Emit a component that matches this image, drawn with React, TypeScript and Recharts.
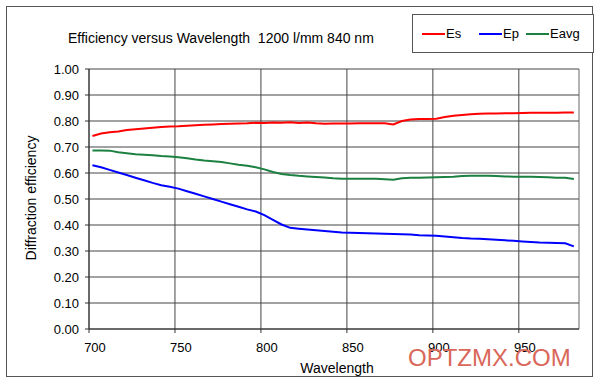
import React from "react";
import { LineChart, Line, XAxis, YAxis, CartesianGrid, ReferenceLine } from "recharts";

const wavelengths = [702, 707, 712, 717, 722, 727, 732, 737, 742, 747, 752, 757, 762, 767, 772, 777, 782, 787, 792, 797, 802, 807, 812, 817, 822, 827, 832, 837, 842, 847, 852, 857, 862, 867, 872, 877, 882, 887, 892, 897, 902, 907, 912, 917, 922, 927, 932, 937, 942, 947, 952, 957, 962, 967, 972, 977, 982];

const es = [0.742, 0.752, 0.757, 0.760, 0.765, 0.768, 0.771, 0.774, 0.777, 0.779, 0.780, 0.782, 0.784, 0.786, 0.787, 0.788, 0.789, 0.790, 0.791, 0.793, 0.792, 0.794, 0.793, 0.795, 0.792, 0.794, 0.791, 0.789, 0.790, 0.790, 0.790, 0.791, 0.791, 0.791, 0.791, 0.787, 0.800, 0.806, 0.808, 0.808, 0.809, 0.815, 0.820, 0.823, 0.826, 0.828, 0.829, 0.829, 0.830, 0.830, 0.831, 0.832, 0.832, 0.832, 0.832, 0.833, 0.833];

const ep = [0.630, 0.622, 0.612, 0.602, 0.592, 0.582, 0.572, 0.562, 0.553, 0.547, 0.540, 0.530, 0.520, 0.510, 0.500, 0.490, 0.480, 0.470, 0.460, 0.452, 0.438, 0.420, 0.402, 0.389, 0.386, 0.383, 0.380, 0.377, 0.374, 0.371, 0.370, 0.369, 0.368, 0.367, 0.366, 0.365, 0.364, 0.363, 0.361, 0.360, 0.359, 0.356, 0.353, 0.350, 0.348, 0.347, 0.345, 0.343, 0.341, 0.339, 0.337, 0.335, 0.333, 0.332, 0.331, 0.330, 0.318];

const eavg = [0.687, 0.687, 0.686, 0.680, 0.676, 0.672, 0.670, 0.668, 0.665, 0.663, 0.661, 0.657, 0.652, 0.648, 0.645, 0.642, 0.637, 0.632, 0.628, 0.622, 0.614, 0.604, 0.596, 0.592, 0.589, 0.587, 0.585, 0.583, 0.580, 0.578, 0.578, 0.578, 0.578, 0.578, 0.576, 0.574, 0.580, 0.582, 0.582, 0.583, 0.584, 0.585, 0.586, 0.588, 0.589, 0.589, 0.589, 0.588, 0.587, 0.586, 0.586, 0.586, 0.585, 0.584, 0.582, 0.582, 0.577];

const xTicks = [700, 750, 800, 850, 900, 950];
const yTicks = [0, 0.1, 0.2, 0.3, 0.4, 0.5, 0.6, 0.7, 0.8, 0.9, 1.0];

const seriesNames = ["Es", "Ep", "Eavg"];
const seriesColors = ["#ff0000", "#0000ff", "#1b8040"];

const title = "Efficiency versus Wavelength  1200 l/mm 840 nm";
const xLabel = "Wavelength";
const yLabel = "Diffraction efficiency";
const watermark = "OPTZMX.COM";

const data = wavelengths.map((w, i) => ({ w, Es: es[i], Ep: ep[i], Eavg: eavg[i] }));

const FONT = "'Liberation Sans', Arial, sans-serif";

const XTick = (props: any) => {
  const { x, y, payload } = props;
  return (
    <text x={x + 6} y={y} dy="0.71em" textAnchor="middle" fontSize={13} fontFamily={FONT} fill="#000">
      {payload.value}
    </text>
  );
};

export default function App() {
  return (
    <div style={{ position: "absolute", left: 0, top: 0, width: 600, height: 385, background: "#fff", fontFamily: FONT }}>
      <div style={{ position: "absolute", left: 6, top: 6, width: 587, height: 371, border: "1px solid #555", boxSizing: "border-box" as any }} />
      <LineChart
        width={600}
        height={385}
        data={data}
        margin={{ top: 69, right: 21, bottom: 26, left: 39 }}
      >
        <CartesianGrid stroke="#444" strokeWidth={1} horizontalValues={yTicks} verticalValues={xTicks} />
        <XAxis
          dataKey="w"
          type="number"
          domain={[700, 985]}
          ticks={xTicks}
          height={30}
          tickSize={4}
          tickMargin={10}
          tick={<XTick />}
          stroke="#333"
          axisLine={{ stroke: "#333" }}
          tickLine={{ stroke: "#333" }}
        />
        <YAxis
          type="number"
          domain={[0, 1]}
          ticks={yTicks}
          width={50}
          tickSize={4}
          tickMargin={6}
          tickFormatter={(v: number) => v.toFixed(2)}
          tick={{ fontSize: 13, fill: "#000", fontFamily: FONT }}
          stroke="#333"
          axisLine={{ stroke: "#333" }}
          tickLine={{ stroke: "#333" }}
        />
        <ReferenceLine x={985} stroke="#666" strokeWidth={1} />
        {seriesNames.map((n, i) => (
          <Line
            key={n}
            type="linear"
            dataKey={n}
            stroke={seriesColors[i]}
            strokeWidth={2}
            dot={false}
            isAnimationActive={false}
          />
        ))}
      </LineChart>
      <div style={{ position: "absolute", left: 68, top: 29, fontSize: 14, color: "#000", whiteSpace: "pre", lineHeight: "18px" }}>{title}</div>
      <div style={{ position: "absolute", left: 412, top: 14, width: 182, height: 39, border: "1px solid #555", boxSizing: "border-box" as any, background: "#fff" }}>
        {seriesNames.map((n, i) => (
          <div key={n} style={{ position: "absolute", left: [9, 66, 113][i], top: 11, display: "flex", alignItems: "center", fontSize: 13, lineHeight: "16px" }}>
            <div style={{ width: 23, height: 2, background: seriesColors[i] }} />
            <span style={{ marginLeft: 1 }}>{n}</span>
          </div>
        ))}
      </div>
      <div style={{ position: "absolute", left: 337, top: 359, transform: "translateX(-50%)", fontSize: 14, color: "#000", lineHeight: "18px" }}>{xLabel}</div>
      <div style={{ position: "absolute", left: 31, top: 198, transform: "translate(-50%, -50%) rotate(-90deg)", fontSize: 14, color: "#000", whiteSpace: "nowrap", lineHeight: "18px" }}>{yLabel}</div>
      <div style={{ position: "absolute", left: 408, top: 344, fontSize: 24, color: "#d9685a", lineHeight: "28px", whiteSpace: "nowrap" }}>{watermark}</div>
    </div>
  );
}
